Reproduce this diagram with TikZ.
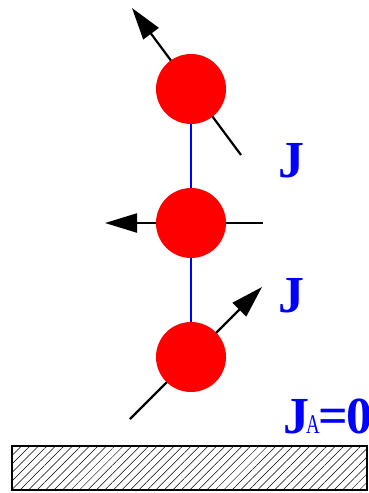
\documentclass[tikz,border=0pt]{standalone}
\usepackage{fontspec}
\setmainfont{Liberation Serif}
\usetikzlibrary{arrows.meta,patterns.meta}
\definecolor{spinred}{HTML}{FF0000}
\definecolor{bondblue}{HTML}{0000FF}

\begin{document}
\begin{tikzpicture}[x=1pt,y=-1pt,
  spin/.style={circle,fill=spinred,minimum size=70pt,inner sep=0pt},
  moment/.style={line width=2.2pt,-{Triangle[length=32pt,width=19pt]}},
  bond/.style={bondblue,line width=1.4pt},
  coupling/.style={text=bondblue,inner sep=0pt,font=\fontsize{52}{58}\selectfont\bfseries}]
  \useasboundingbox (0,0) rectangle (369,493);
  % substrate
  \draw[line width=1.5pt,pattern={Lines[angle=45,distance=6pt,line width=0.5pt]}]
    (12,446) rectangle (367,490);
  % moments, drawn below the spheres
  \coordinate (top tail) at (241,155);
  \coordinate (top tip) at (132,8);
  \coordinate (mid tail) at (263,223);
  \coordinate (mid tip) at (105,223);
  \coordinate (bot tail) at (130,419);
  \coordinate (bot tip) at (262,287);
  \draw[moment] (top tail) -- (top tip);
  \draw[moment] (mid tail) -- (mid tip);
  \draw[moment] (bot tail) -- (bot tip);
  % spheres
  \node[spin] (s1) at (191,89) {};
  \node[spin] (s2) at (191,223) {};
  \node[spin] (s3) at (191,357) {};
  \draw[bond] (s1) -- (s2);
  \draw[bond] (s2) -- (s3);
  % couplings
  \node[coupling,anchor=base] (j1) at (291,177) {J};
  \node[coupling,anchor=base] (j2) at (291,312) {J};
  \node[coupling,anchor=base west] (ja) at (283,433)
    {J\kern-3pt\scalebox{0.7}[1]{\fontsize{27}{30}\selectfont\mdseries A}\kern-1pt=\kern-2pt0};
\end{tikzpicture}
\end{document}
